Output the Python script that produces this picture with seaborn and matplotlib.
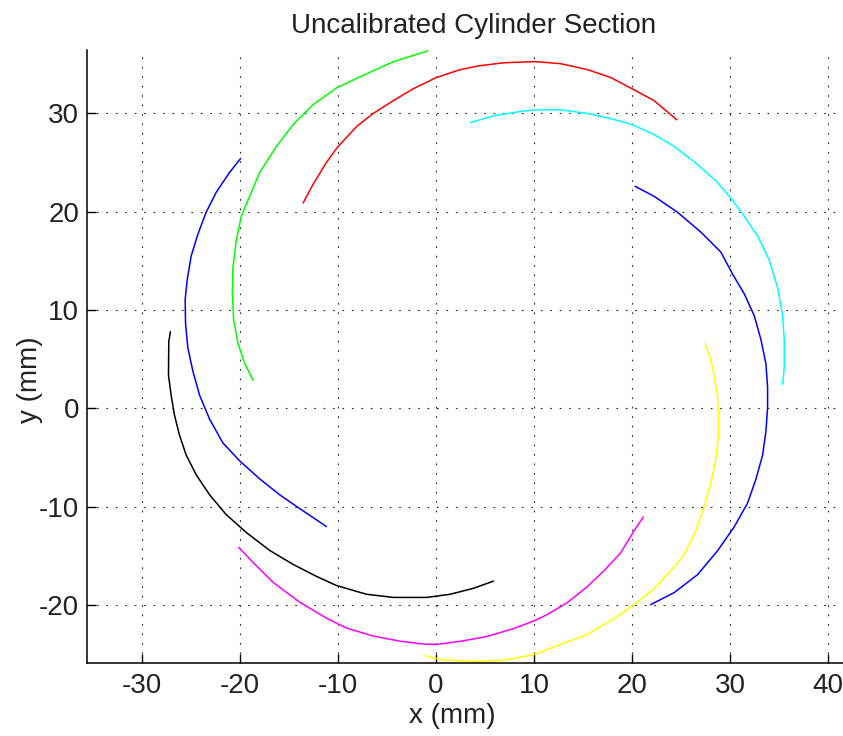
import numpy as np
import pandas as pd
import matplotlib
matplotlib.use("Agg")
import matplotlib.pyplot as plt
import seaborn as sns

# ---- data (mm) ----
green_x = [-0.85, -4.36, -7.77, -10.15, -12.54, -14.58, -16.29, -17.99, -19.18, -19.86, -20.37,
           -20.72, -20.78, -20.65, -20.2, -19.52, -18.67]
green_y = [36.36, 35.26, 33.72, 32.59, 30.89, 28.87, 26.64, 24.0, 21.17, 19.55, 17.13,
           14.29, 11.86, 9.03, 6.6, 4.57, 2.87]

red_x = [-13.56, -12.54, -11.18, -10.09, -8.11, -6.41, -4.36, -2.32, 0.0, 2.45, 4.5, 6.91,
         10.08, 12.7, 15.42, 17.81, 19.99, 22.23, 24.55]
red_y = [20.89, 22.79, 25.02, 26.52, 28.66, 30.0, 31.3, 32.51, 33.64, 34.45, 34.86, 35.15,
         35.27, 35.06, 34.46, 33.65, 32.51, 31.3, 29.35]

cyan_x = [3.51, 5.89, 8.61, 10.08, 12.7, 15.42, 17.81, 19.99, 22.23, 24.28, 26.66, 28.7,
          30.06, 31.42, 32.79, 33.98, 34.83, 35.34, 35.51, 35.51, 35.34]
cyan_y = [29.07, 29.76, 30.2, 30.36, 30.36, 30.0, 29.47, 28.87, 27.85, 26.64, 24.81, 22.99,
          21.37, 19.55, 17.52, 15.09, 12.25, 9.42, 6.99, 4.15, 2.45]

blue_r_x = [20.29, 22.23, 24.62, 27.0, 29.04, 30.23, 31.43, 32.45, 33.13, 33.64, 33.81, 33.81,
            33.64, 33.3, 32.62, 31.77, 30.4, 28.7, 26.66, 24.28, 21.89]
blue_r_y = [22.59, 21.57, 19.95, 17.93, 15.9, 13.67, 11.65, 9.42, 6.99, 4.55, 2.12, 0.1,
            -2.33, -4.76, -7.2, -9.63, -12.06, -14.49, -16.92, -18.74, -19.96]

yellow_x = [27.44, 28.02, 28.36, 28.7, 28.8, 28.8, 28.53, 28.02, 27.34, 26.49, 25.3, 23.94,
            22.23, 20.19, 18.15, 15.42, 12.7, 10.08, 6.91, 3.51, 0.44, -1.09]
yellow_y = [6.58, 4.96, 3.34, 1.31, -0.71, -2.74, -5.17, -7.6, -10.03, -12.46, -14.89, -16.51,
            -18.34, -19.96, -21.38, -23.0, -24.01, -25.02, -25.63, -25.75, -25.55, -25.15]

magenta_x = [-20.14, -18.67, -16.63, -13.9, -11.18, -9.13, -6.41, -3.68, -1.29, 0.1, 2.49,
             5.21, 7.93, 10.08, 11.34, 13.38, 15.42, 17.13, 18.83, 20.19, 21.14]
magenta_y = [-14.13, -15.67, -17.69, -19.72, -21.34, -22.35, -23.16, -23.68, -23.97, -24.01, -23.69,
             -23.2, -22.39, -21.58, -20.97, -19.76, -18.14, -16.51, -14.69, -12.46, -11.05]

black_x = [-27.09, -27.26, -27.29, -27.02, -26.68, -26.17, -25.49, -24.46, -23.1, -21.4, -19.35,
           -16.97, -14.58, -12.2, -10.15, -7.09, -4.36, -0.95, 1.43, 3.82, 5.86]
black_y = [7.81, 6.8, 3.36, 1.34, -0.69, -2.71, -4.74, -6.76, -8.79, -10.81, -12.63,
           -14.45, -15.87, -17.09, -18.02, -18.91, -19.23, -19.23, -18.91, -18.3, -17.57]

blue_l_x = [-19.93, -21.06, -22.42, -23.44, -24.29, -24.97, -25.38, -25.59, -25.55, -25.32, -24.8,
            -24.12, -23.1, -21.74, -20.03, -17.99, -15.95, -13.9, -11.18]
blue_l_y = [25.42, 24.0, 21.98, 19.96, 17.73, 15.51, 13.08, 11.05, 8.62, 6.19, 3.77,
            1.34, -1.09, -3.52, -5.34, -7.17, -8.79, -10.2, -12.02]

arcs = [
    ("blue_l", blue_l_x, blue_l_y, "#0000ff"),
    ("green", green_x, green_y, "#00ff00"),
    ("red", red_x, red_y, "#ff0000"),
    ("cyan", cyan_x, cyan_y, "#00ffff"),
    ("blue_r", blue_r_x, blue_r_y, "#0000ff"),
    ("yellow", yellow_x, yellow_y, "#ffff00"),
    ("magenta", magenta_x, magenta_y, "#ff00ff"),
    ("black", black_x, black_y, "#000000"),
]

x_ticks = [-30, -20, -10, 0, 10, 20, 30, 40]
y_ticks = [-20, -10, 0, 10, 20, 30]

rows = []
for name, xs, ys, _ in arcs:
    for i, (xv, yv) in enumerate(zip(xs, ys)):
        rows.append({"arc": name, "order": i, "x": xv, "y": yv})
df = pd.DataFrame(rows)
palette = {name: c for name, _, _, c in arcs}

sns.set_theme(style="white")
plt.rcParams["font.family"] = ["Liberation Sans", "DejaVu Sans"]

fig = plt.figure(figsize=(8.43, 7.36), dpi=100)
W, H = 843, 736
left, right, top, bottom = 87, 843, 50, 663
ax = fig.add_axes([left / W, 1 - bottom / H, (right - left) / W, (bottom - top) / H])
ax.set_facecolor("white")

sns.lineplot(data=df, x="x", y="y", hue="arc", palette=palette, sort=False,
             estimator=None, legend=False, linewidth=1.1, ax=ax)

ax.set_xlim(-35.6, 41.5)
ax.set_ylim(-25.9, 36.45)
ax.set_xticks(x_ticks)
ax.set_yticks(y_ticks)
ax.set_xticklabels([str(t) for t in x_ticks])
ax.set_yticklabels([str(t) for t in y_ticks])

ax.grid(True, color="#222222", linestyle=(0, (1.5, 7)), linewidth=0.8)
ax.set_axisbelow(True)

for s in ["top", "right"]:
    ax.spines[s].set_visible(False)
for s in ["left", "bottom"]:
    ax.spines[s].set_color("black")
    ax.spines[s].set_linewidth(1.1)

FS = 20
TC = "#222222"
ax.tick_params(axis="both", direction="in", length=6.5, width=1.0, color="black",
               labelsize=FS, labelcolor=TC, left=True, bottom=True)
ax.tick_params(axis="x", pad=7)
ax.tick_params(axis="y", pad=5.5)

ax.set_title("Uncalibrated Cylinder Section", fontsize=FS, color=TC,
             x=(474 - left) / (right - left), y=1 + 17 / (bottom - top), pad=0,
             va="baseline")
ax.set_xlabel("x (mm)", fontsize=FS, color=TC)
ax.set_ylabel("y (mm)", fontsize=FS, color=TC, va="center", ha="center")
ax.xaxis.set_label_coords((452 - left) / (right - left), (bottom - 703) / (bottom - top))
ax.yaxis.set_label_coords((30 - left) / (right - left), (bottom - 380) / (bottom - top))

fig.savefig("out.png", dpi=100)
